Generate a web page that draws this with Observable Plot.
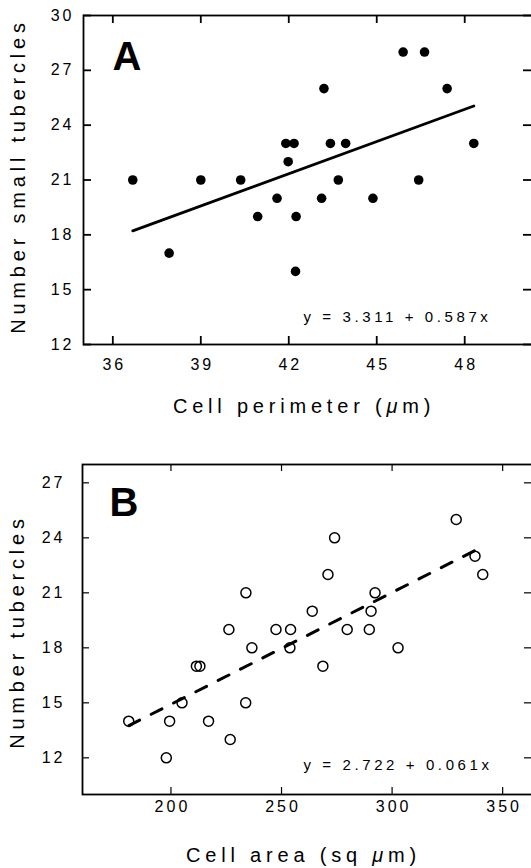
<!DOCTYPE html>
<html>
<head>
<meta charset="utf-8">
<script src="https://cdn.jsdelivr.net/npm/d3@7"></script>
<script src="https://cdn.jsdelivr.net/npm/@observablehq/plot@0.6"></script>
<style>
  html, body { margin: 0; padding: 0; background: white; overflow: hidden; }
  #wrap { position: relative; width: 531px; height: 868px; overflow: hidden; background: white; }
  #wrap svg { position: absolute; left: 0; max-width: none !important; }
  g[aria-label="x-axis tick label"] text, g[aria-label="y-axis tick label"] text { letter-spacing: 3px; }
  g[font-size="20"] text { letter-spacing: 4.8px; }
  g[font-size="15"] text { letter-spacing: 3.6px; }
</style>
</head>
<body>
<div id="wrap"></div>
<script>
// ---------- Panel A data ----------
const perimeterA = [36.68, 37.92, 39.0, 40.36, 40.94, 41.6, 41.9, 42.18, 41.98, 42.25, 42.23,
                    43.2, 43.12, 43.42, 43.69, 43.94, 44.87, 45.9, 46.63, 46.43, 47.4, 48.31];
const smallTubA  = [21, 17, 21, 21, 19, 20, 23, 23, 22, 19, 16,
                    26, 20, 23, 21, 23, 20, 28, 28, 21, 26, 23];
const fitAx = [36.68, 48.31];
const fitAy = [18.22, 25.05];
const xTicksA = [36, 39, 42, 45, 48];
const yTicksA = [12, 15, 18, 21, 24, 27, 30];
const eqA = "y = 3.311 + 0.587x";
const xLabelA = "Cell perimeter (μm)";
const yLabelA = "Number small tubercles";

// ---------- Panel B data ----------
const areaB = [180.9, 197.9, 199.4, 205, 211.5, 213.1, 217, 226.2, 226.8, 233.9, 233.8, 236.6,
               247.5, 254.1, 253.8, 263.9, 268.7, 271, 274, 279.7, 289.7, 290.5, 292.3, 302.7,
               329, 337.5, 341];
const tubB  = [14, 12, 14, 15, 17, 17, 14, 19, 13, 21, 15, 18,
               19, 19, 18, 20, 17, 22, 24, 19, 19, 20, 21, 18,
               25, 23, 22];
const fitBx = [181, 342];
const fitBy = [13.76, 23.58];
const xTicksB = [200, 250, 300, 350];
const yTicksB = [12, 15, 18, 21, 24, 27];
const eqB = "y = 2.722 + 0.061x";
const xLabelB = "Cell area (sq μm)";
const yLabelB = "Number tubercles";

const FONT = "'Liberation Sans', Arial, Helvetica, sans-serif";

function panel(cfg) {
  const W = 534;
  const innerW = W - cfg.marginLeft;
  const innerH = cfg.height - cfg.marginTop - cfg.marginBottom;
  const pts = cfg.xs.map((x, i) => ({x, y: cfg.ys[i]}));
  const fit = cfg.fx.map((x, i) => ({x, y: cfg.fy[i]}));
  const svg = Plot.plot({
    width: W,
    height: cfg.height,
    marginTop: cfg.marginTop,
    marginBottom: cfg.marginBottom,
    marginLeft: cfg.marginLeft,
    marginRight: 0,
    x: {domain: cfg.xDomain},
    y: {domain: cfg.yDomain},
    style: {fontFamily: FONT, fontSize: "16px", color: "black", background: "white", maxWidth: "none", overflow: "visible"},
    marks: [
      Plot.axisX(cfg.xTicks, {tickSize: 0, tickPadding: cfg.xPad, label: null, dx: 1.5}),
      Plot.axisY(cfg.yTicks, {tickSize: 0, tickPadding: cfg.yPad, label: null}),
      Plot.tickX(cfg.xTicks, {x: d => d, insetTop: innerH - cfg.tick, stroke: "black", strokeWidth: cfg.tickW}),
      Plot.tickX(cfg.xTicks, {x: d => d, insetBottom: innerH - cfg.tick, stroke: "black", strokeWidth: cfg.tickW}),
      Plot.tickY(cfg.yTicks, {y: d => d, insetRight: innerW - cfg.tick, stroke: "black", strokeWidth: cfg.tickW}),
      Plot.tickY(cfg.yTicks, {y: d => d, insetLeft: innerW - cfg.tick - 3, insetRight: 0, stroke: "black", strokeWidth: cfg.tickW}),
      Plot.frame({stroke: "black", strokeWidth: 1.8}),
      Plot.line(fit, {x: "x", y: "y", stroke: "black", strokeWidth: cfg.lineW, strokeDasharray: cfg.dash}),
      Plot.dot(pts, {x: "x", y: "y", r: cfg.r, fill: cfg.filled ? "black" : "none",
                     stroke: "black", strokeWidth: cfg.filled ? 0 : 1.5}),
      Plot.text([cfg.letter], {frameAnchor: "top-left", dx: cfg.letterDx, dy: cfg.letterDy,
                     textAnchor: "start", lineAnchor: "middle", fontSize: 40, fontWeight: "bold", fill: "black"}),
      Plot.text([cfg.eq], {frameAnchor: "bottom-left", dx: cfg.eqDx, dy: cfg.eqDy,
                     textAnchor: "start", lineAnchor: "middle", fontSize: 15, fill: "black"}),
      Plot.text([cfg.yLabel], {frameAnchor: "left", dx: -65, dy: cfg.yLabDy, rotate: -90,
                     textAnchor: "middle", lineAnchor: "middle", fontSize: 20, fill: "black"}),
      Plot.text([cfg.xLabel], {frameAnchor: "bottom", dx: cfg.xLabDx, dy: cfg.xLabDy,
                     textAnchor: "middle", lineAnchor: "middle", fontSize: 20, fill: "black"})
    ]
  });
  // italic mu
  d3.select(svg).selectAll("text").filter(function () { return this.textContent.includes("μ"); })
    .each(function () {
      const t = this.textContent, i = t.indexOf("μ");
      const s = d3.select(this);
      s.text(null);
      s.append("tspan").text(t.slice(0, i));
      s.append("tspan").attr("font-style", "italic").text("μ");
      s.append("tspan").text(t.slice(i + 1));
    });
  svg.style.top = cfg.top + "px";
  return svg;
}

const wrap = document.getElementById("wrap");
wrap.appendChild(panel({
  top: 0, height: 430, marginTop: 15, marginBottom: 86, marginLeft: 83,
  xDomain: [35, 50.38], yDomain: [12, 30],
  xs: perimeterA, ys: smallTubA, fx: fitAx, fy: fitAy,
  xTicks: xTicksA, yTicks: yTicksA, xPad: 14, yPad: 9, tick: 8, tickW: 1.8,
  lineW: 2.8, dash: null, r: 4.8, filled: true,
  letter: "A", letterDx: 29, letterDy: 42,
  eq: eqA, eqDx: 220, eqDy: -27,
  yLabel: yLabelA, yLabDy: -4, xLabel: xLabelA, xLabDx: -5, xLabDy: 62
}));
wrap.appendChild(panel({
  top: 440, height: 428, marginTop: 24, marginBottom: 74, marginLeft: 82,
  xDomain: [160, 364.4], yDomain: [10, 28],
  xs: areaB, ys: tubB, fx: fitBx, fy: fitBy,
  xTicks: xTicksB, yTicks: yTicksB, xPad: 6, yPad: 17, tick: 7, tickW: 1.2,
  lineW: 3, dash: "12,13", r: 5, filled: false,
  letter: "B", letterDx: 27, letterDy: 39,
  eq: eqB, eqDx: 221, eqDy: -29,
  yLabel: yLabelB, yLabDy: 2, xLabel: xLabelB, xLabDx: -5, xLabDy: 61
}));
</script>
</body>
</html>
